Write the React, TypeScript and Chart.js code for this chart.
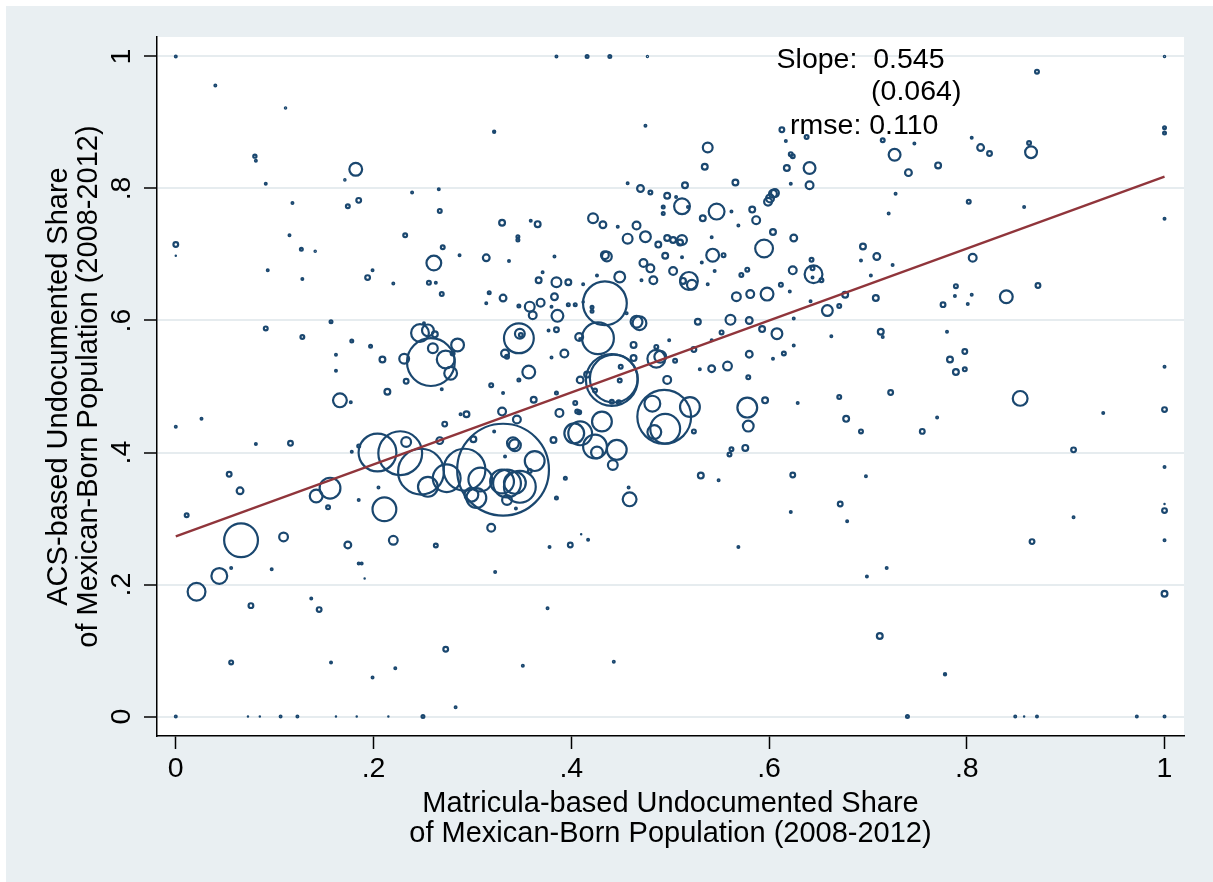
import React, { useEffect, useRef } from "react";
import { Chart, registerables } from "chart.js";

Chart.register(...registerables);

// ---------------- data ----------------
const X_TICKS = [0, 0.2, 0.4, 0.6, 0.8, 1];
const Y_TICKS = [0, 0.2, 0.4, 0.6, 0.8, 1];
const TICK_LABELS = ["0", ".2", ".4", ".6", ".8", "1"];

const X_TITLE = ["Matricula-based Undocumented Share", "of Mexican-Born Population (2008-2012)"];
const Y_TITLE = ["ACS-based Undocumented Share", "of Mexican-Born Population (2008-2012)"];

// Matricula-based share (x)
const MATRICULA = [
  0.000, 0.385, 0.416, 0.439, 0.477, 1.000, 0.040, 0.111, 0.080, 0.081,
  0.091, 0.182, 0.171, 0.185, 0.174, 0.118, 0.239, 0.266, 0.267, 0.000,
  0.000, 0.115, 0.127, 0.141, 0.232, 0.270, 0.287, 0.314, 0.261, 0.093,
  0.128, 0.199, 0.194, 0.220, 0.256, 0.263, 0.269, 0.317, 0.314, 0.322,
  0.091, 0.128, 0.157, 0.178, 0.197, 0.162, 0.162, 0.209, 0.231, 0.258,
  0.247, 0.255, 0.262, 0.251, 0.285, 0.260, 0.273, 0.278, 0.280, 0.233,
  0.319, 0.269, 0.475, 0.538, 0.535, 0.566, 0.613, 0.617, 0.638, 0.622,
  0.624, 0.618, 0.641, 0.622, 0.641, 0.457, 0.470, 0.480, 0.497, 0.515,
  0.506, 0.512, 0.518, 0.493, 0.493, 0.547, 0.533, 0.562, 0.583, 0.587,
  0.569, 0.604, 0.604, 0.601, 0.599, 0.606, 0.422, 0.432, 0.447, 0.466,
  0.457, 0.475, 0.488, 0.497, 0.503, 0.512, 0.510, 0.542, 0.543, 0.554,
  0.595, 0.625, 0.366, 0.359, 0.330, 0.346, 0.346, 0.337, 0.383, 0.436,
  0.434, 0.495, 0.512, 0.473, 0.480, 0.503, 0.483, 0.471, 0.519, 0.522,
  0.513, 0.532, 0.545, 0.538, 0.572, 0.578, 0.624, 0.643, 0.645, 0.644,
  0.653, 0.644, 0.612, 0.621, 0.567, 0.581, 0.598, 0.642, 0.659, 0.671,
  0.625, 0.663, 0.528, 0.561, 0.580, 0.593, 0.608, 0.552, 0.542, 0.524,
  0.580, 0.615, 0.625, 0.604, 0.542, 0.558, 0.530, 0.579, 0.499, 0.486,
  0.486, 0.490, 0.505, 0.497, 0.463, 0.469, 0.466, 0.456, 0.434, 0.427,
  0.449, 0.426, 0.412, 0.421, 0.421, 0.408, 0.409, 0.397, 0.385, 0.367,
  0.371, 0.383, 0.380, 0.386, 0.369, 0.358, 0.361, 0.347, 0.331, 0.397,
  0.404, 0.412, 0.385, 0.377, 0.347, 0.348, 0.349, 0.393, 0.380, 0.357,
  0.347, 0.333, 0.335, 0.441, 0.443, 0.450, 0.449, 0.441, 0.448, 0.424,
  0.463, 0.409, 0.416, 0.494, 0.482, 0.520, 0.495, 0.484, 0.524, 0.531,
  0.459, 0.458, 0.394, 0.385, 0.382, 0.388, 0.404, 0.406, 0.408, 0.385,
  0.362, 0.331, 0.409, 0.403, 0.431, 0.424, 0.446, 0.442, 0.426, 0.343,
  0.363, 0.578, 0.579, 0.596, 0.629, 0.671, 0.576, 0.562, 0.560, 0.549,
  0.624, 0.672, 0.622, 0.569, 0.378, 0.399, 0.410, 0.417, 0.376, 0.351,
  0.443, 0.331, 0.292, 0.274, 0.308, 0.304, 0.299, 0.330, 0.343, 0.341,
  0.345, 0.330, 0.335, 0.335, 0.348, 0.358, 0.344, 0.333, 0.204, 0.227,
  0.233, 0.248, 0.255, 0.267, 0.272, 0.288, 0.294, 0.301, 0.322, 0.319,
  0.323, 0.263, 0.211, 0.220, 0.174, 0.185, 0.188, 0.191, 0.205, 0.185,
  0.156, 0.142, 0.154, 0.166, 0.177, 0.214, 0.178, 0.185, 0.000, 0.026,
  0.081, 0.116, 0.054, 0.065, 0.011, 0.066, 0.109, 0.044, 0.056, 0.021,
  0.097, 0.076, 0.137, 0.145, 0.056, 0.157, 0.199, 0.222, 0.273, 0.283,
  0.000, 0.073, 0.085, 0.106, 0.123, 0.162, 0.183, 0.215, 0.250, 0.740,
  0.849, 0.858, 0.871, 0.972, 1.000, 0.871, 1.000, 1.000, 0.715, 0.747,
  0.727, 0.741, 0.771, 0.805, 0.814, 0.823, 0.863, 0.865, 0.728, 0.802,
  0.858, 1.000, 0.721, 0.695, 0.693, 0.709, 0.725, 0.703, 0.806, 0.677,
  0.708, 0.789, 0.788, 0.805, 0.801, 0.776, 0.840, 0.872, 0.713, 0.715,
  0.780, 0.783, 0.798, 0.789, 0.798, 1.000, 0.723, 0.854, 0.678, 0.693,
  0.755, 0.770, 0.938, 1.000, 0.908, 1.000, 0.698, 0.679, 1.000, 1.000,
  0.908, 0.866, 1.000, 0.699, 0.719, 1.000, 0.712, 0.778,
];

// ACS-based share (y)
const ACS = [
  1.000, 1.000, 1.000, 1.000, 1.000, 1.000, 0.956, 0.922, 0.849, 0.842,
  0.807, 0.829, 0.813, 0.782, 0.773, 0.778, 0.794, 0.799, 0.766, 0.715,
  0.698, 0.729, 0.708, 0.705, 0.729, 0.711, 0.699, 0.695, 0.687, 0.676,
  0.663, 0.676, 0.665, 0.656, 0.657, 0.657, 0.640, 0.642, 0.626, 0.886,
  0.588, 0.575, 0.598, 0.569, 0.561, 0.548, 0.524, 0.541, 0.542, 0.537,
  0.581, 0.585, 0.579, 0.596, 0.563, 0.558, 0.541, 0.520, 0.550, 0.508,
  0.502, 0.496, 0.895, 0.862, 0.833, 0.809, 0.889, 0.872, 0.878, 0.852,
  0.849, 0.831, 0.831, 0.807, 0.805, 0.808, 0.800, 0.794, 0.789, 0.805,
  0.787, 0.773, 0.772, 0.772, 0.762, 0.765, 0.755, 0.765, 0.768, 0.752,
  0.744, 0.734, 0.792, 0.785, 0.780, 0.793, 0.755, 0.745, 0.742, 0.744,
  0.724, 0.727, 0.715, 0.725, 0.722, 0.722, 0.718, 0.726, 0.699, 0.699,
  0.709, 0.725, 0.746, 0.751, 0.748, 0.727, 0.722, 0.690, 0.697, 0.697,
  0.699, 0.698, 0.696, 0.687, 0.679, 0.675, 0.661, 0.661, 0.660, 0.654,
  0.660, 0.688, 0.675, 0.655, 0.669, 0.677, 0.676, 0.692, 0.670, 0.679,
  0.661, 0.665, 0.654, 0.644, 0.636, 0.640, 0.640, 0.629, 0.615, 0.622,
  0.603, 0.576, 0.598, 0.601, 0.600, 0.587, 0.580, 0.582, 0.570, 0.556,
  0.549, 0.550, 0.562, 0.542, 0.527, 0.531, 0.526, 0.514, 0.570, 0.560,
  0.542, 0.545, 0.539, 0.510, 0.563, 0.596, 0.598, 0.611, 0.626, 0.573,
  0.666, 0.668, 0.655, 0.620, 0.614, 0.575, 0.572, 0.658, 0.658, 0.661,
  0.673, 0.636, 0.621, 0.607, 0.627, 0.621, 0.608, 0.622, 0.634, 0.624,
  0.624, 0.628, 0.586, 0.585, 0.573, 0.580, 0.578, 0.550, 0.544, 0.522,
  0.510, 0.550, 0.545, 0.510, 0.512, 0.530, 0.509, 0.477, 0.476, 0.494,
  0.543, 0.510, 0.518, 0.454, 0.474, 0.469, 0.436, 0.431, 0.432, 0.365,
  0.329, 0.347, 0.361, 0.331, 0.419, 0.460, 0.475, 0.462, 0.461, 0.490,
  0.480, 0.490, 0.429, 0.429, 0.447, 0.409, 0.404, 0.381, 0.400, 0.411,
  0.387, 0.468, 0.440, 0.479, 0.475, 0.484, 0.407, 0.405, 0.397, 0.358,
  0.366, 0.322, 0.310, 0.257, 0.257, 0.260, 0.276, 0.268, 0.164, 0.077,
  0.083, 0.374, 0.374, 0.361, 0.359, 0.331, 0.336, 0.356, 0.354, 0.414,
  0.450, 0.462, 0.328, 0.353, 0.348, 0.372, 0.315, 0.394, 0.400, 0.399,
  0.416, 0.371, 0.348, 0.418, 0.443, 0.458, 0.458, 0.420, 0.432, 0.286,
  0.219, 0.259, 0.314, 0.267, 0.260, 0.232, 0.232, 0.209, 0.347, 0.328,
  0.346, 0.334, 0.317, 0.479, 0.476, 0.492, 0.401, 0.410, 0.439, 0.451,
  0.413, 0.414, 0.367, 0.342, 0.305, 0.267, 0.272, 0.213, 0.225, 0.189,
  0.223, 0.168, 0.179, 0.162, 0.082, 0.082, 0.059, 0.073, 0.102, 0.014,
  0.000, 0.000, 0.000, 0.000, 0.000, 0.000, 0.000, 0.000, 0.000, 0.000,
  0.000, 0.000, 0.000, 0.000, 0.000, 0.977, 0.892, 0.884, 0.873, 0.868,
  0.851, 0.824, 0.835, 0.877, 0.862, 0.853, 0.869, 0.855, 0.792, 0.780,
  0.772, 0.754, 0.762, 0.712, 0.691, 0.697, 0.684, 0.668, 0.695, 0.639,
  0.634, 0.652, 0.637, 0.639, 0.625, 0.624, 0.636, 0.653, 0.583, 0.575,
  0.583, 0.541, 0.553, 0.522, 0.526, 0.530, 0.491, 0.482, 0.451, 0.432,
  0.432, 0.453, 0.460, 0.465, 0.404, 0.378, 0.364, 0.296, 0.312, 0.322,
  0.302, 0.265, 0.267, 0.212, 0.225, 0.186, 0.122, 0.064,
];

// Population weight of each area (drives the marker area)
const WEIGHT = [
  4, 4, 6.3, 6.3, 2.3, 3.2, 4, 3.2, 7.3, 4,
  4, 56, 3.2, 12, 9, 4, 4, 4, 9, 12,
  1, 4, 6.3, 3.2, 9, 9, 4, 20, 72, 4,
  4, 4, 12, 4, 9, 4, 9, 6.3, 4, 4.8,
  9, 9, 6.3, 6.3, 6.3, 4, 4, 16, 36, 625,
  100, 49, 16, 4, 56, 36, 100, 56, 9, 12,
  9, 4, 4, 36, 16, 16, 12, 4, 9, 9,
  9, 16, 49, 4, 25, 4, 20, 9, 16, 16,
  4, 81, 4, 6.3, 6.3, 81, 16, 4, 16, 25,
  4, 16, 25, 25, 25, 25, 36, 20, 4, 25,
  36, 42, 16, 16, 16, 36, 16, 4, 56, 9,
  100, 20, 16, 4, 16, 6.3, 6.3, 4, 4, 36,
  25, 16, 4, 25, 25, 25, 25, 4, 100, 36,
  16, 4, 4, 4, 9, 9, 25, 9, 100, 9,
  9, 4, 9, 4, 30, 25, 56, 4, 42, 9,
  4, 4, 16, 36, 20, 16, 42, 9, 4, 12,
  20, 9, 4, 4, 20, 30, 4, 9, 4, 9,
  100, 49, 9, 25, 16, 64, 49, 4, 529, 289,
  42, 4, 4, 6.3, 6.3, 25, 4, 16, 36, 16,
  4, 20, 4, 49, 25, 36, 25, 6.3, 20, 6.3,
  6.3, 3.2, 12, 4, 256, 36, 9, 25, 4, 56,
  6.3, 25, 9, 729, 625, 9, 9, 9, 9, 9,
  16, 20, 16, 784, 81, 121, 256, 64, 9, 16,
  64, 4, 6.3, 6.3, 16, 25, 9, 9, 9, 6.3,
  16, 4, 169, 121, 121, 169, 121, 36, 49, 49,
  121, 121, 42, 16, 4, 9, 16, 9, 9, 4,
  12, 12, 4, 4, 4, 12, 1, 4, 4, 4,
  4, 2209, 484, 225, 169, 121, 64, 169, 144, 49,
  25, 25, 36, 225, 289, 9, 4, 4, 400, 529,
  36, 576, 121, 20, 12, 4, 16, 16, 4, 25,
  4, 9, 169, 30, 20, 4, 4, 1, 4, 4,
  132, 56, 9, 64, 4, 16, 4, 6.3, 4, 4,
  4, 12, 12, 20, 9, 324, 30, 81, 4, 100,
  4, 12, 4, 12, 9, 4, 4, 4, 12, 4,
  4, 1, 1, 4, 4, 1, 1, 1, 6.3, 6.3,
  4, 1, 4, 4, 4, 9, 6.3, 6.3, 9, 4,
  49, 20, 16, 4, 20, 12, 9, 49, 4, 9,
  4, 4, 4, 16, 4, 20, 4, 4, 25, 16,
  16, 9, 4, 4, 4, 12, 56, 12, 16, 4,
  4, 16, 12, 16, 9, 4, 12, 72, 16, 9,
  12, 4, 4, 12, 12, 4, 4, 4, 12, 1,
  4, 12, 4, 4, 4, 16, 16, 4.8,
];

// Fitted regression line
const FIT_X = [0, 1];
const FIT_Y = [0.273, 0.818];

// Annotation text
const NOTE_LINES = ["Slope:  0.545", "(0.064)", "rmse: 0.110"];
const NOTE_X = [0.6076, 0.7032, 0.6213];
const NOTE_Y = [0.9824, 0.9344, 0.8829];

// ---------------- style ----------------
const FAMILY = '"Liberation Sans", Arial, Helvetica, sans-serif';
const NAVY = "#1a476f";
const MAROON = "#90353b";
const REGION_BG = "#e9eff2";
const GRID = "#e6ecef";

const bgAndTextPlugin = {
  id: "bgAndText",
  beforeDraw(chart: any) {
    const { ctx, width, height, chartArea } = chart;
    ctx.save();
    ctx.fillStyle = "#ffffff";
    ctx.fillRect(0, 0, width, height);
    ctx.fillStyle = REGION_BG;
    ctx.fillRect(6, 6, width - 6, height - 6);
    ctx.fillStyle = "#ffffff";
    ctx.fillRect(chartArea.left, chartArea.top, chartArea.right - chartArea.left, chartArea.bottom - chartArea.top);
    ctx.restore();
  },
  afterDraw(chart: any) {
    const { ctx, chartArea } = chart;
    const xs = chart.scales.x;
    const ys = chart.scales.y;
    ctx.save();
    ctx.fillStyle = "#000";
    ctx.font = `28.5px ${FAMILY}`;
    ctx.textAlign = "center";
    ctx.textBaseline = "alphabetic";
    Y_TICKS.forEach((v, i) => {
      const py = ys.getPixelForValue(v);
      ctx.save();
      ctx.translate(chartArea.left - 27, py);
      ctx.rotate(-Math.PI / 2);
      ctx.fillText(TICK_LABELS[i], 0, 0);
      ctx.restore();
    });
    ctx.textAlign = "left";
    ctx.font = `28.5px ${FAMILY}`;
    NOTE_LINES.forEach((t, i) => {
      ctx.fillText(t, xs.getPixelForValue(NOTE_X[i]), ys.getPixelForValue(NOTE_Y[i]));
    });
    ctx.restore();
  },
};

export default function App() {
  const canvasRef = useRef<HTMLCanvasElement | null>(null);

  useEffect(() => {
    const canvas = canvasRef.current;
    if (!canvas) return;
    const points = MATRICULA.map((x, i) => ({ x, y: ACS[i] }));
    const fit = FIT_X.map((x, i) => ({ x, y: FIT_Y[i] }));

    const chart = new Chart(canvas, {
      type: "scatter",
      data: {
        datasets: [
          {
            label: "fit",
            data: fit,
            showLine: true,
            borderColor: MAROON,
            borderWidth: 2.4,
            pointRadius: 0,
            pointHoverRadius: 0,
            fill: false,
            order: 0,
          } as any,
          {
            label: "areas",
            data: points,
            order: 1,
            pointBackgroundColor: "rgba(0,0,0,0)",
            pointBorderColor: NAVY,
            pointHoverRadius: 0,
            pointRadius: (c: any) => {
              const w = WEIGHT[c.dataIndex] ?? 4;
              return w <= 1 ? 0.6 : Math.max(Math.sqrt(w) - 1.1, 0.6);
            },
            pointBorderWidth: (c: any) => ((WEIGHT[c.dataIndex] ?? 4) <= 1 ? 1.3 : 2.2),
          } as any,
        ],
      },
      options: {
        responsive: false,
        animation: false,
        events: [],
        layout: { autoPadding: false, padding: { top: 37, right: 29, left: 0, bottom: 0 } },
        plugins: {
          legend: { display: false },
          tooltip: { enabled: false },
        },
        scales: {
          x: {
            type: "linear",
            min: -0.019,
            max: 1.0197,
            afterFit: (s: any) => {
              s.height = 146;
            },
            afterBuildTicks: (s: any) => {
              s.ticks = X_TICKS.map((v) => ({ value: v }));
            },
            ticks: {
              autoSkip: false,
              maxRotation: 0,
              minRotation: 0,
              padding: 3,
              color: "#000",
              font: { family: FAMILY, size: 28.5 },
              callback: (v: any) => {
                const i = X_TICKS.findIndex((t) => Math.abs(t - Number(v)) < 1e-6);
                return i >= 0 ? TICK_LABELS[i] : "";
              },
            },
            grid: {
              drawOnChartArea: false,
              drawTicks: true,
              tickLength: 13,
              tickColor: "#000",
              tickWidth: 1.5,
            },
            border: { display: true, color: "#000", width: 1.5 },
            title: {
              display: true,
              text: X_TITLE,
              color: "#000",
              font: { family: FAMILY, size: 29, lineHeight: "29.5px" },
              padding: { top: 0, bottom: 33.75 },
            },
          },
          y: {
            type: "linear",
            min: -0.0295,
            max: 1.0295,
            afterFit: (s: any) => {
              s.width = 157;
            },
            afterBuildTicks: (s: any) => {
              s.ticks = Y_TICKS.map((v) => ({ value: v }));
            },
            ticks: { display: false },
            grid: {
              color: GRID,
              lineWidth: 2,
              drawTicks: true,
              tickLength: 13,
              tickColor: "#000",
              tickWidth: 1.5,
            },
            border: { display: true, color: "#000", width: 1.5 },
            title: {
              display: true,
              text: Y_TITLE,
              color: "#000",
              font: { family: FAMILY, size: 29, lineHeight: "29.5px" },
              padding: { top: 44.25, bottom: 0 },
            },
          },
        },
      } as any,
      plugins: [bgAndTextPlugin],
    });

    return () => {
      chart.destroy();
    };
  }, []);

  return (
    <div style={{ position: "fixed", left: 0, top: 0, width: 1213, height: 882, background: "#ffffff" }}>
      <canvas ref={canvasRef} width={1213} height={882} style={{ display: "block", width: 1213, height: 882 }} />
    </div>
  );
}
